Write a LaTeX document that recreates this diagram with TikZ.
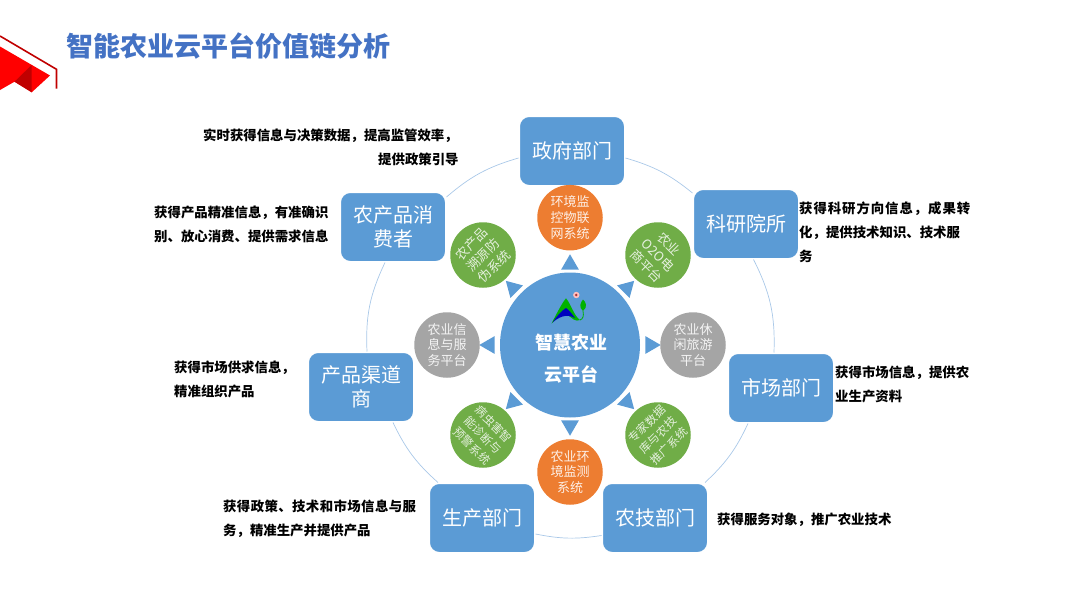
\documentclass[tikz,border=0pt]{standalone}
\usepackage{fontspec}
\setmainfont{Noto Sans CJK SC}
\usepackage{xcolor}
\usetikzlibrary{shapes.geometric}
\definecolor{heading}{HTML}{4472C4}
\definecolor{hubblue}{HTML}{5B9BD5}
\definecolor{ringblue}{HTML}{A9C8E8}
\definecolor{sysorange}{HTML}{ED7D31}
\definecolor{sysgreen}{HTML}{70AD47}
\definecolor{sysgrey}{HTML}{A5A5A5}
\definecolor{cornerred}{HTML}{FF0000}
\definecolor{cornerdark}{HTML}{C00000}
\newcommand{\wider}[1]{\addfontfeature{LetterSpace=#1}}

\begin{document}
\begin{tikzpicture}[
    x=1pt,y=-1pt,
    party/.style={rectangle,fill=hubblue,draw=white,line width=1.5pt,rounded corners=10pt,minimum width=105.5pt,minimum height=69.5pt,inner sep=1pt,align=center,text=white,font=\fontsize{20}{23.5}\selectfont},
    sysdisc/.style={circle,minimum size=65.5pt,inner sep=0pt,align=center,font=\fontsize{13}{15.8}\selectfont},
    orangedisc/.style={sysdisc,fill=sysorange,text=white!88!sysorange},
    greendisc/.style={sysdisc,fill=sysgreen,text=white!82!sysgreen},
    greydisc/.style={sysdisc,fill=sysgrey,text=white!88!sysgrey},
    tipmark/.style={regular polygon,regular polygon sides=3,fill=hubblue,minimum size=20.5pt,inner sep=0pt},
    gain/.style={anchor=west,inner sep=0pt,align=left,font=\fontsize{13.4}{24}\selectfont\bfseries},
    ringline/.style={draw=ringblue,line width=0.7pt}
  ]
    \useasboundingbox (0,0) rectangle (1080,608);

    % corner mark
    \fill[cornerred] (0,46.5) -- (50,75.5) -- (31.7,92.3) -- (14.5,81.7) -- (0,90) -- cycle;
    \fill[cornerdark] (31.7,65) -- (14.5,81.7) -- (31.7,92.3) -- cycle;
    \draw[cornerdark,line width=1.6pt] (0,36) -- (56.5,69.3) -- (56.5,88.5);

    \node[anchor=west,inner sep=0pt,text=heading,font=\fontsize{27}{27}\selectfont\bfseries] (title) at (66,46) {智能农业云平台价值链分析};

    \node[party] (gov) at (572,151) {政府部门};
    \node[party] (lab) at (746,224) {科研院所};
    \node[party] (market) at (781,388) {市场部门};
    \node[party] (extension) at (655,518) {农技部门};
    \node[party] (producer) at (482,518) {生产部门};
    \node[party] (channel) at (361,387) {产品渠道\\商};
    \node[party] (consumer) at (393,227) {农产品消\\费者};

    % outer ring
    \draw[ringline] ([yshift=-7pt]gov.east) to[bend left=11.4] ([yshift=31pt]lab.west);
    \draw[ringline] ([xshift=7.5pt]lab.south) to[bend left=14.4] ([xshift=-7pt]market.north);
    \draw[ringline] ([xshift=-33pt]market.south) to[bend left=11] ([xshift=50pt]extension.north);
    \draw[ringline] ([yshift=-17.5pt]extension.west) to[bend left=10] ([yshift=-16pt]producer.east);
    \draw[ringline] ([xshift=-44pt]producer.north) to[bend left=11.3] ([xshift=32pt]channel.south);
    \draw[ringline] ([xshift=6pt]channel.north) to[bend left=14] ([xshift=-8pt]consumer.south);
    \draw[ringline] ([yshift=30pt]consumer.east) to[bend left=12.2] ([yshift=-7pt]gov.west);

    \node[ellipse,fill=hubblue,minimum width=140pt,minimum height=145pt,inner sep=0pt] (hub) at (570,345) {};
    \node[inner sep=0pt,align=center,text=white,font=\fontsize{18}{32}\selectfont\bfseries] (hubname) at (571,359) {智慧农业\\云平台};

    % logo
    \fill[green!70!black] (551.5,323.5) .. controls (557,313) and (562,303) .. (566,298.3) .. controls (571,304) and (574,316) .. (580,320) .. controls (576,322) and (572,319) .. (566,313) .. controls (561,315) and (556,319) .. (551.5,323.5);
    \fill[blue!75!black] (552.5,322.5) .. controls (557,316) and (561,311) .. (566,308) .. controls (569,310) and (572,314) .. (575,318) .. controls (570,315) and (562,314) .. (552.5,322.5);
    \draw[green!70!black,line width=0.8pt] (580,320) .. controls (583,319) and (584,316) .. (583,311);
    \fill[green!70!black] (583,311) .. controls (578,307) and (581,302) .. (583,299.5) .. controls (586,302) and (588,307) .. (583,311);
    \fill[red!25!white] (576.3,295) circle (3.2);
    \fill[red!60!black!80] (576.3,295) circle (1.4);

    \foreach \a in {0,45,...,315}
      \node[tipmark,rotate=-\a-90] (tip\a) at ([shift={(\a:80.5)}]hub.center) {};

    \node[orangedisc] (iot) at (570,217.7) {环境监\\控物联\\网系统};
    \node[greendisc,rotate=-45] (shop) at (658,255) {农业\\O2O电\\商平台};
    \node[greydisc] (leisure) at (693,345) {农业休\\闲旅游\\平台};
    \node[greendisc,rotate=45,font=\fontsize{11.5}{15.5}\selectfont] (expert) at (658,435) {专家数据\\库与农技\\推广系统};
    \node[orangedisc] (monitor) at (570,472) {农业环\\境监测\\系统};
    \node[greendisc,rotate=-45,font=\fontsize{11.5}{15.5}\selectfont] (pest) at (483,435) {病虫害智\\能诊断与\\预警系统};
    \node[greydisc] (info) at (447,345) {农业信\\息与服\\务平台};
    \node[greendisc,rotate=45] (trace) at (483,255) {农产品\\溯源防\\伪系统};

    \node[gain] (govgain) at (203,147.5) {实时获得信息与决策数据，提高监管效率，\\\hspace*{175pt}提供政策引导};
    \node[gain] (consumergain) at (154,224) {获得产品精准信息，有准确识\\别、放心消费、提供需求信息};
    \node[gain] (labgain) at (799,232) {\wider{7}获得科研方向信息，成果转\\化，提供技术知识、技术服\\务};
    \node[gain] (marketgain) at (835,384) {获得市场信息，提供农\\业生产资料};
    \node[gain] (extensiongain) at (717,520) {获得服务对象，推广农业技术};
    \node[gain] (channelgain) at (174,379) {获得市场供求信息，\\精准组织产品};
    \node[gain] (producergain) at (223,519) {{\wider{3}获得政策、技术和市场信息与服}\\务，精准生产并提供产品};
  \end{tikzpicture}
\end{document}
